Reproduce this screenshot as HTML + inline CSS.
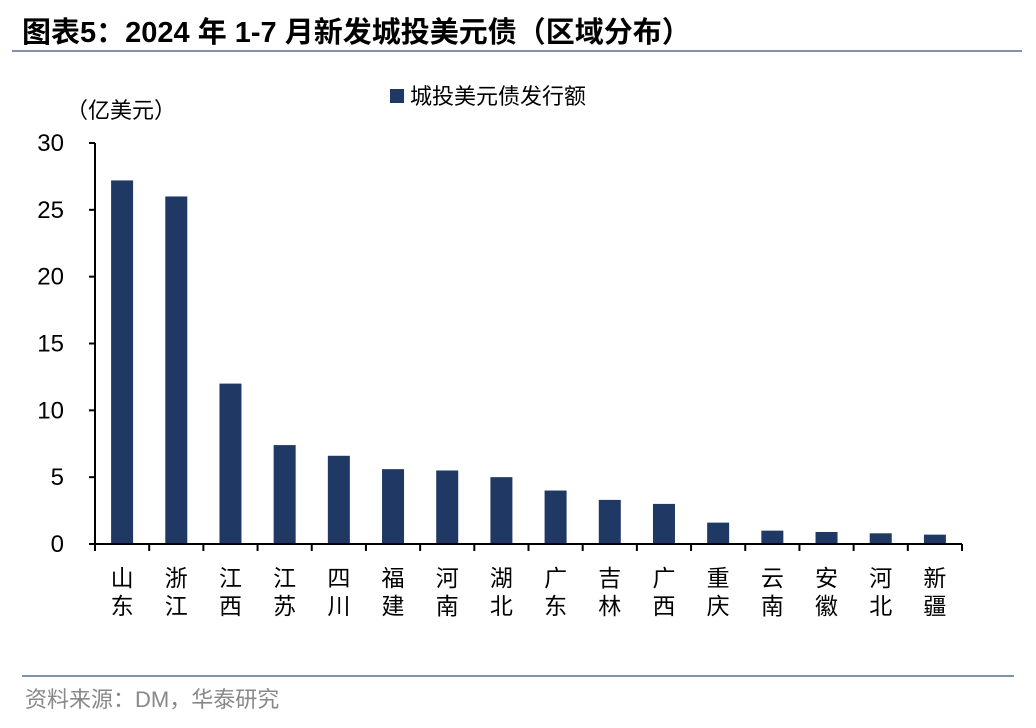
<!DOCTYPE html>
<html><head><meta charset="utf-8"><style>
body{margin:0;background:#fff;}
svg{display:block;font-family:"Liberation Sans","Noto Sans CJK SC",sans-serif;}
</style></head><body>
<svg width="1036" height="728">
<text x="22" y="42" font-size="29" font-weight="bold" fill="#000">图表5：2024 年 1-7 月新发城投美元债（区域分布）</text>
<line x1="12" y1="51" x2="1022" y2="51" stroke="#7f93ac" stroke-width="2"/>
<rect x="390" y="89" width="14" height="14" fill="#1f3864"/>
<text x="410" y="104" font-size="22" fill="#000">城投美元债发行额</text>
<text x="66" y="118" font-size="22" fill="#000">（亿美元）</text>
<g id="yaxis"></g>
<g id="bars"></g>
<g id="xaxis"></g>
<line x1="22" y1="676" x2="1014" y2="676" stroke="#7f93ac" stroke-width="2"/>
<text x="25" y="707" font-size="22" fill="#888">资料来源：DM，华泰研究</text>
</svg>
<script>
const categories=["山东","浙江","江西","江苏","四川","福建","河南","湖北","广东","吉林","广西","重庆","云南","安徽","河北","新疆"];
const values=[27.2,26.0,12.0,7.4,6.6,5.6,5.5,5.0,4.0,3.3,3.0,1.6,1.0,0.9,0.8,0.7];
const yTicks=[0,5,10,15,20,25,30];
const NS="http://www.w3.org/2000/svg";
const x0=95,x1=962,y0=544,yTop=143,yMax=30;
const band=(x1-x0)/categories.length;
const yScale=v=>y0-(v/yMax)*(y0-yTop);
function mk(tag,attrs,parent){const e=document.createElementNS(NS,tag);for(const k in attrs)e.setAttribute(k,attrs[k]);parent.appendChild(e);return e;}
const ya=document.getElementById('yaxis'),bg=document.getElementById('bars'),xa=document.getElementById('xaxis');
mk('line',{x1:x0,y1:yTop,x2:x0,y2:y0,stroke:'#000','stroke-width':2},ya);
yTicks.forEach(t=>{
  const y=yScale(t);
  const tk=mk('line',{x1:x0-6,y1:y,x2:x0,y2:y,stroke:'#000','stroke-width':2},ya);
  
  
  const tx=mk('text',{x:64,y:y+8,'font-size':24,'text-anchor':'end',fill:'#000'},ya);
  tx.textContent=t;
  
  
});
mk('line',{x1:x0,y1:y0,x2:x1,y2:y0,stroke:'#000','stroke-width':2},xa);
for(let i=0;i<=categories.length;i++){
  const x=x0+i*band;
  const tk=mk('line',{x1:x,y1:y0,x2:x,y2:y0+7,stroke:'#000','stroke-width':2},xa);
  
  
}
categories.forEach((c,i)=>{
  const cx=x0+(i+0.5)*band,bw=22;
  const r=mk('rect',{x:cx-bw/2,y:yScale(values[i]),width:bw,height:y0-yScale(values[i]),fill:'#1f3864'},bg);
  
  
  [0,1].forEach(j=>{
    const t=mk('text',{x:cx,y:586+j*28,'font-size':23,'text-anchor':'middle',fill:'#000'},xa);
    t.textContent=c[j];
    
    
  });
});
</script>
</body></html>
